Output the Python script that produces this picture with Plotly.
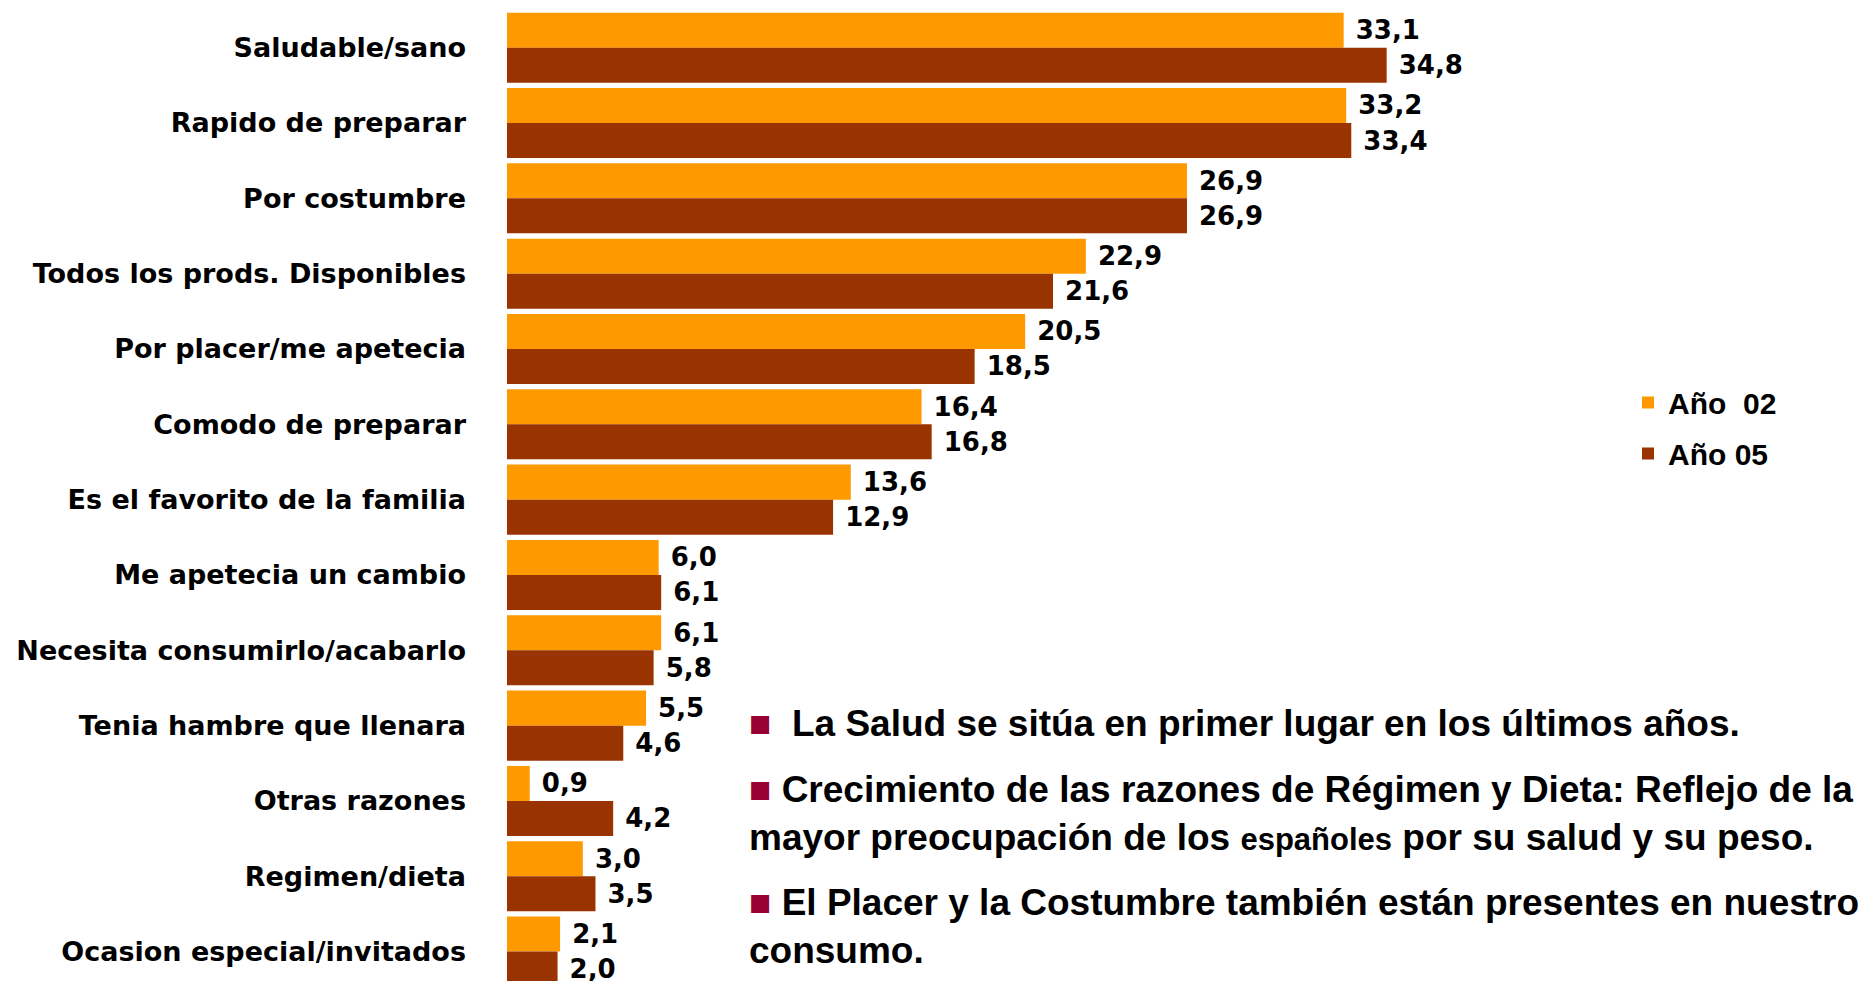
import plotly.graph_objects as go

CATEGORIES = [
    "Saludable/sano",
    "Rapido de preparar",
    "Por costumbre",
    "Todos los prods. Disponibles",
    "Por placer/me apetecia",
    "Comodo de preparar",
    "Es el favorito de la familia",
    "Me apetecia un cambio",
    "Necesita consumirlo/acabarlo",
    "Tenia hambre que llenara",
    "Otras razones",
    "Regimen/dieta",
    "Ocasion especial/invitados",
]
ANO_02 = [33.1, 33.2, 26.9, 22.9, 20.5, 16.4, 13.6, 6.0, 6.1, 5.5, 0.9, 3.0, 2.1]
ANO_05 = [34.8, 33.4, 26.9, 21.6, 18.5, 16.8, 12.9, 6.1, 5.8, 4.6, 4.2, 3.5, 2.0]
SERIES = [("Año\u00a0 02", ANO_02, "#FF9900"), ("Año 05", ANO_05, "#993300")]

BULLETS = [
    "\u00a0La Salud se sitúa en primer lugar en los últimos años.",
    "Crecimiento de las razones de Régimen y Dieta: Reflejo de la<br>"
    "mayor preocupación de los <span style='font-size:31px'>españoles</span> "
    "por su salud y su peso.",
    "El Placer y la Costumbre también están presentes en nuestro<br>consumo.",
]

# the page body adds an 8px margin, so the figure is a bit smaller than the window
PAGE_OFFSET = 8
W, H = 1872 - PAGE_OFFSET, 981 - PAGE_OFFSET
LEFT, TOP = 499, 2
LABEL_FONT = "DejaVu Sans"
TEXT_FONT = "Liberation Sans, Arial"


def px_x(px: float) -> float:
    return (px - PAGE_OFFSET - LEFT) / (W - LEFT)


def px_y(px: float) -> float:
    return (H - (px - PAGE_OFFSET)) / (H - TOP)


fig = go.Figure()
for idx, (name, values, color) in enumerate(SERIES):
    fig.add_trace(
        go.Bar(
            name=name,
            legendgroup=f"g{idx}",
            x=values,
            y=CATEGORIES,
            orientation="h",
            marker={"color": color, "line": {"width": 0}},
            texttemplate=" %{x:.1f}",
            textposition="outside",
            constraintext="none",
            cliponaxis=False,
            textfont={"family": LABEL_FONT, "size": 26, "color": "black", "weight": "bold"},
            hoverinfo="skip",
        )
    )

annotations = []
for text, y_px in zip(BULLETS, (723, 813, 926)):
    annotations.append(
        {
            "text": f"<span style='color:#990033'>■</span> {text}",
            "xref": "paper",
            "yref": "paper",
            "x": px_x(747),
            "y": px_y(y_px),
            "xanchor": "left",
            "yanchor": "middle",
            "align": "left",
            "showarrow": False,
            "font": {"family": TEXT_FONT, "size": 37, "color": "black", "weight": "bold"},
        }
    )

fig.update_layout(
    width=W,
    height=H,
    margin={"l": LEFT, "r": 0, "t": TOP, "b": 0, "autoexpand": False},
    paper_bgcolor="white",
    plot_bgcolor="white",
    barmode="group",
    bargap=0.07,
    bargroupgap=0,
    separators=",.",
    showlegend=True,
    legend={
        "x": px_x(1628),
        "y": px_y(428),
        "xanchor": "left",
        "yanchor": "middle",
        "tracegroupgap": 9,
        "font": {"family": TEXT_FONT, "size": 30, "color": "black", "weight": "bold"},
        "bgcolor": "rgba(0,0,0,0)",
    },
    annotations=annotations,
)
fig.update_xaxes(visible=False, range=[0, 54], showgrid=False, zeroline=False)
fig.update_yaxes(
    range=[12.39, -0.5],
    showgrid=False,
    zeroline=False,
    showline=False,
    ticks="",
    ticklabelstandoff=40,
    automargin=False,
    tickfont={"family": LABEL_FONT, "size": 27, "color": "black", "weight": "bold"},
)

fig.write_html("out.html")
